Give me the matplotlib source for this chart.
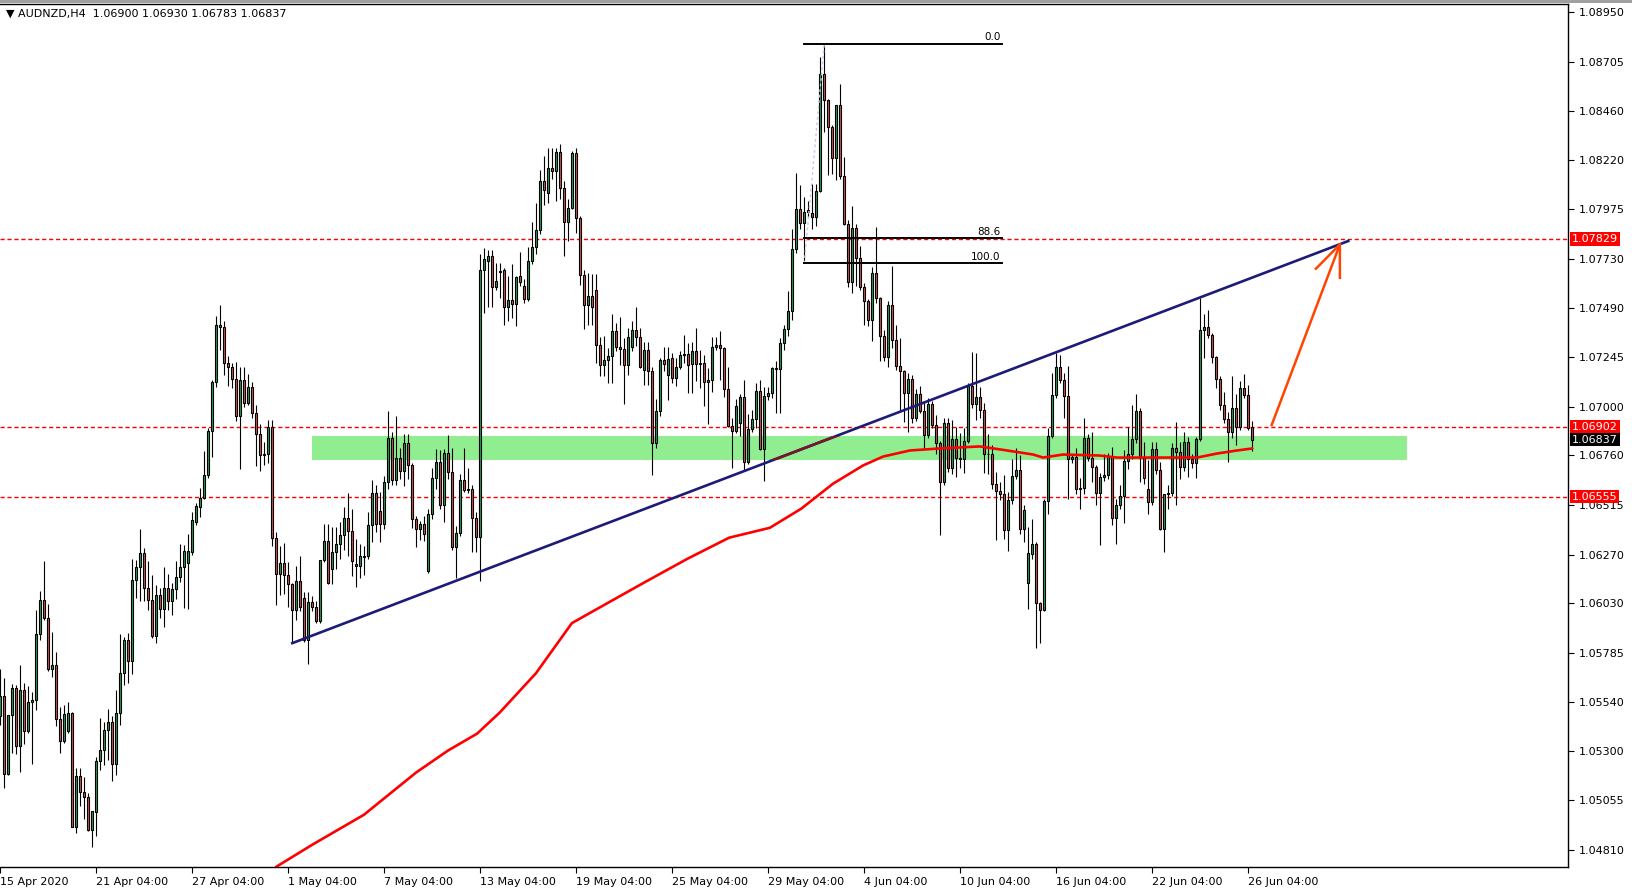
import numpy as np
import matplotlib
matplotlib.use("Agg")
import matplotlib.pyplot as plt
from matplotlib.patches import Rectangle
from matplotlib.transforms import blended_transform_factory

# AUDNZD H4 candles, prices in points (1e-5), bar 0 = 15 Apr 04:00
opens = [
    105471, 105570, 105186, 105475, 105612, 105326, 105599, 105399, 105543, 105553,
    105875, 106045, 105954, 105704, 105726, 105456, 105347, 105397, 105485, 104926,
    105177, 105096, 105071, 104908, 105000, 105252, 105305, 105404, 105443, 105235,
    105485, 105686, 105846, 105744, 106143, 106207, 106277, 106103, 106047, 105868,
    106068, 106002, 106103, 106039, 106100, 106158, 106207, 106227, 106282, 106433,
    106503, 106551, 106665, 106882, 107121, 107403, 107393, 107216, 107195, 107138,
    106952, 107131, 107021, 107100, 106971, 106867, 106764, 106769, 106898, 106351,
    106173, 106227, 106168, 106124, 105995, 106141, 106053, 105846, 106037, 106009,
    105942, 106243, 106336, 106199, 106282, 106320, 106365, 106450, 106386, 106225,
    106212, 106259, 106262, 106414, 106574, 106485, 106419, 106629, 106844, 106637,
    106748, 106681, 106819, 106711, 106443, 106394, 106422, 106187, 106472, 106650,
    106725, 106513, 106774, 106678, 106307, 106377, 106637, 106587, 106592, 106452,
    106356, 107675, 107720, 107746, 107594, 107671, 107675, 107495, 107527, 107510,
    107646, 107596, 107530, 107720, 107790, 107874, 108117, 108055, 108181, 108164,
    108261, 108080, 107913, 107984, 108252, 107933, 107651, 107502, 107546, 107576,
    107304, 107204, 107229, 107249, 107373, 107294, 107284, 107207, 107295, 107378,
    107346, 107180, 107279, 107175, 106822, 106981, 107229, 107155, 107239, 107141,
    107195, 107254, 107262, 107213, 107274, 107212, 107216, 107121, 107134, 107295,
    107304, 107290, 107087, 106905, 106880, 106918, 107047, 106728, 106889, 106938,
    107080, 106791, 107051, 107067, 107191, 107186, 107315, 107385, 107472, 107781,
    107979, 107906, 107963, 107955, 107938, 108067, 108643, 108514, 108381, 108227,
    108489, 108138, 107905, 107616, 107884, 107733, 107593, 107525, 107430, 107662,
    107535, 107348, 107244, 107502, 107331, 107199, 107175, 107067, 107136, 106946,
    107062, 106981, 106860, 107012, 106910, 106822, 106629, 106921, 106699, 106839,
    106748, 106743, 106832, 107105, 107012, 107047, 106984, 106766, 106769, 106617,
    106582, 106567, 106389, 106538, 106660, 106690, 106397, 106129, 106273, 106323,
    106029, 105997, 106533, 106857, 107056, 107195, 107130, 107054, 106744, 106753,
    106592, 106599, 106847, 106748, 106700, 106574, 106654, 106662, 106756, 106450,
    106513, 106559, 106733, 106766, 106839, 106981, 106748, 106596, 106530, 106789,
    106686, 106397, 106569, 106574, 106794, 106777, 106700, 106824, 106744, 106723,
    106840, 107378, 107393, 107356, 107244, 107138, 107009, 106939, 106877, 106996,
    106902, 107092, 107058, 106900,
]
highs = [
    105703, 105658, 105475, 105628, 105625, 105723, 105637, 105620, 105592, 105995,
    106088, 106237, 106025, 105886, 105786, 105519, 105524, 105543, 105490, 105215,
    105215, 105171, 105090, 105003, 105270, 105460, 105441, 105509, 105471, 105599,
    105876, 105860, 105880, 106248, 106245, 106397, 106303, 106239, 106169, 106121,
    106105, 106210, 106174, 106128, 106240, 106323, 106319, 106370, 106481, 106526,
    106599, 106781, 106893, 107133, 107447, 107502, 107423, 107249, 107216, 107219,
    107195, 107195, 107161, 107121, 107009, 106917, 106828, 106934, 106934, 106381,
    106314, 106326, 106232, 106130, 106215, 106265, 106083, 106083, 106066, 106042,
    106245, 106422, 106422, 106405, 106405, 106431, 106505, 106574, 106496, 106348,
    106323, 106314, 106480, 106640, 106612, 106579, 106657, 106979, 106877, 106954,
    106794, 106865, 106865, 106720, 106460, 106438, 106460, 106496, 106698, 106789,
    106786, 106789, 106860, 106794, 106410, 106670, 106794, 106695, 106612, 106480,
    107753, 107786, 107773, 107773, 107712, 107708, 107687, 107646, 107707, 107646,
    107764, 107629, 107791, 107913, 108009, 108168, 108241, 108277, 108277, 108277,
    108299, 108117, 108026, 108266, 108277, 107941, 107675, 107662, 107654, 107654,
    107345, 107348, 107290, 107459, 107414, 107442, 107340, 107389, 107423, 107493,
    107389, 107318, 107318, 107195, 107037, 107240, 107293, 107293, 107265, 107240,
    107274, 107353, 107313, 107318, 107389, 107279, 107258, 107191, 107345, 107345,
    107373, 107295, 107195, 106943, 107038, 107063, 107134, 106962, 106984, 107117,
    107134, 107097, 107100, 107196, 107224, 107340, 107406, 107571, 107876, 108153,
    108097, 108034, 108018, 108100, 108100, 108728, 108794, 108522, 108390, 108492,
    108593, 108232, 107921, 107993, 107902, 107795, 107612, 107530, 107690, 107889,
    107540, 107381, 107522, 107695, 107406, 107340, 107183, 107166, 107158, 107087,
    107103, 107026, 107042, 107029, 106959, 106830, 106946, 106946, 106934, 106902,
    106868, 106893, 107117, 107270, 107265, 107100, 107017, 106864, 106810, 106679,
    106629, 106662, 106579, 106744, 106794, 106761, 106513, 106405, 106447, 106330,
    106035, 106546, 106893, 107166, 107265, 107257, 107166, 107199, 106769, 106794,
    106649, 106946, 106864, 106873, 106711, 106675, 106769, 106773, 106803, 106546,
    106612, 106786, 106898, 107009, 107062, 106992, 106828, 106736, 106824, 106824,
    106728, 106571, 106612, 106819, 106923, 106828, 106873, 106852, 106769, 106852,
    107538, 107459, 107480, 107364, 107250, 107150, 107072, 106976, 107150, 107062,
    107128, 107161, 107108, 106930,
]
lows = [
    105430, 105116, 105180, 105290, 105285, 105195, 105334, 105390, 105235, 105501,
    105848, 105945, 105694, 105665, 105422, 105288, 105340, 105390, 104923, 104896,
    105025, 104962, 104905, 104826, 104881, 105207, 105228, 105253, 105149, 105183,
    105427, 105625, 105637, 105678, 106053, 106042, 106042, 105995, 105855, 105831,
    105956, 105913, 105995, 105970, 106050, 106135, 106005, 106000, 106270, 106417,
    106453, 106543, 106649, 106753, 107097, 107282, 107159, 107105, 107092, 106930,
    106691, 107001, 107008, 106943, 106706, 106682, 106711, 106720, 106314, 106022,
    106071, 106075, 106009, 105834, 105947, 105990, 105840, 105727, 105990, 105934,
    105934, 106232, 106125, 106125, 106199, 106248, 106290, 106265, 106166, 106108,
    106154, 106170, 106248, 106331, 106381, 106331, 106397, 106592, 106615, 106612,
    106645, 106609, 106645, 106401, 106307, 106344, 106339, 106180, 106447, 106596,
    106496, 106433, 106645, 106290, 106154, 106360, 106579, 106575, 106282, 106282,
    106141, 107463, 107493, 107493, 107575, 107535, 107406, 107426, 107439, 107401,
    107596, 107513, 107522, 107703, 107753, 107852, 107996, 108009, 108123, 108018,
    108026, 107745, 107819, 107975, 107861, 107604, 107384, 107406, 107406, 107216,
    107150, 107150, 107117, 107117, 107274, 107207, 107014, 107159, 107274, 107298,
    107191, 107108, 107108, 106662, 106794, 106954, 107175, 107031, 107117, 107105,
    107188, 107216, 107067, 107067, 107125, 107095, 107004, 106915, 107075, 107278,
    107134, 107050, 106900, 106695, 106868, 106855, 106686, 106715, 106874, 106893,
    106786, 106634, 107034, 107042, 106968, 106968, 107282, 107350, 107430, 107761,
    107876, 107712, 107935, 107876, 107893, 108062, 108356, 108147, 108150, 108122,
    108125, 107900, 107593, 107563, 107599, 107578, 107406, 107398, 107323, 107513,
    107224, 107224, 107195, 107290, 107181, 106976, 106926, 106877, 106918, 106928,
    106968, 106794, 106844, 106893, 106769, 106364, 106615, 106679, 106670, 106654,
    106695, 106674, 106820, 106992, 106934, 106943, 106675, 106670, 106596, 106344,
    106540, 106348, 106285, 106521, 106645, 106372, 106331, 106000, 106248, 105806,
    105831, 105990, 106472, 106844, 107042, 107117, 106943, 106546, 106720, 106571,
    106496, 106571, 106734, 106629, 106513, 106319, 106635, 106645, 106414, 106323,
    106496, 106426, 106691, 106744, 106819, 106629, 106620, 106472, 106516, 106670,
    106389, 106282, 106496, 106561, 106513, 106645, 106685, 106654, 106695, 106650,
    106829, 107240, 107340, 107216, 107092, 106983, 106918, 106728, 106844, 106810,
    106884, 107042, 106884, 106783,
]
closes = [
    105570, 105186, 105475, 105612, 105326, 105599, 105399, 105543, 105553, 105875,
    106045, 105954, 105704, 105726, 105456, 105347, 105480, 105485, 104926, 105177,
    105096, 105071, 104908, 105003, 105252, 105305, 105404, 105443, 105235, 105485,
    105686, 105846, 105744, 106143, 106207, 106277, 106103, 106047, 105868, 106068,
    106002, 106103, 106039, 106100, 106158, 106207, 106287, 106287, 106442, 106510,
    106551, 106665, 106882, 107121, 107403, 107393, 107216, 107195, 107138, 106952,
    107131, 107021, 107100, 106971, 106867, 106764, 106769, 106898, 106351, 106173,
    106227, 106168, 106124, 105995, 106141, 106009, 105846, 106037, 106009, 105942,
    106243, 106336, 106130, 106282, 106320, 106365, 106450, 106386, 106240, 106212,
    106262, 106262, 106414, 106574, 106419, 106419, 106629, 106844, 106637, 106748,
    106681, 106819, 106711, 106443, 106394, 106422, 106369, 106472, 106650, 106725,
    106513, 106774, 106678, 106307, 106377, 106637, 106587, 106592, 106452, 106356,
    107675, 107731, 107746, 107594, 107621, 107666, 107495, 107527, 107510, 107641,
    107614, 107530, 107720, 107790, 107874, 108117, 108070, 108181, 108164, 108261,
    108080, 107913, 107984, 108252, 107933, 107651, 107502, 107546, 107492, 107304,
    107204, 107229, 107249, 107373, 107294, 107284, 107207, 107345, 107378, 107346,
    107198, 107279, 107175, 106822, 106981, 107229, 107212, 107234, 107141, 107198,
    107254, 107262, 107207, 107274, 107212, 107216, 107121, 107134, 107295, 107304,
    107290, 107087, 106905, 106880, 107006, 107047, 106728, 106889, 106938, 107080,
    106791, 107051, 107067, 107191, 107186, 107315, 107385, 107472, 107781, 107979,
    107906, 107963, 107971, 107938, 108067, 108643, 108514, 108381, 108227, 108489,
    108138, 107905, 107616, 107884, 107733, 107593, 107525, 107430, 107662, 107535,
    107348, 107244, 107502, 107331, 107199, 107175, 107067, 107136, 106946, 107062,
    106981, 106860, 107012, 106910, 106822, 106629, 106921, 106699, 106839, 106748,
    106743, 106832, 107105, 107012, 107047, 106984, 106766, 106769, 106617, 106582,
    106567, 106389, 106538, 106660, 106690, 106397, 106491, 106278, 106323, 106029,
    105997, 106533, 106857, 107056, 107195, 107130, 107054, 106744, 106753, 106592,
    106599, 106847, 106748, 106700, 106574, 106654, 106662, 106756, 106450, 106513,
    106559, 106733, 106766, 106839, 106981, 106748, 106650, 106530, 106789, 106686,
    106397, 106569, 106574, 106794, 106777, 106700, 106824, 106744, 106723, 106840,
    107378, 107393, 107356, 107244, 107138, 107009, 106939, 106877, 106996, 106902,
    107092, 107058, 106897, 106837,
]

# moving average, bar index -> price
ma_idx = [68.9, 77.9, 90.9, 103.9, 111.9, 119.2, 124.9, 133.9, 142.9, 150.9,
          161.2, 171.7, 182.2, 192.4, 200.2, 208.2, 215.7, 220.7, 227.4, 234.9,
          244.9, 251.7, 258.2, 260.7, 265.7, 274.9, 279.2, 289.2, 299.2, 304.2,
          309.2, 313.0]
ma_val = [1.04726, 1.04835, 1.04984, 1.05192, 1.05301, 1.05385, 1.05490, 1.05683,
          1.05931, 1.06020, 1.06134, 1.06248, 1.06353, 1.06402, 1.06496, 1.06620,
          1.06710, 1.06754, 1.06784, 1.06794, 1.06804, 1.06784, 1.06764, 1.06749,
          1.06764, 1.06759, 1.06749, 1.06749, 1.06749, 1.06769, 1.06784, 1.06794]

# drawn objects
hlines = [1.07829, 1.06902, 1.06555]
bid = 1.06837
trend_idx = [73, 337]
trend_val = [1.05832, 1.07819]
zone_idx = [77.9, 351.7]
zone_val = [1.06736, 1.06854]
fib_idx = [201, 250.4]
fib_levels = {"0.0": 1.08794, "88.6": 1.07832, "100.0": 1.07708}
fib_diag_idx = [201, 206]
fib_diag_val = [1.07708, 1.08794]
arrow_idx = [317.85, 334.9]
arrow_val = [1.06910, 1.07802]
head_idx = [328.9, 334.9, 334.9]
head_val = [1.07682, 1.07802, 1.07637]

yticks = [1.08950, 1.08705, 1.08460, 1.08220, 1.07975, 1.07730, 1.07490, 1.07245,
          1.07000, 1.06760, 1.06515, 1.06270, 1.06030, 1.05785, 1.05540, 1.05300,
          1.05055, 1.04810]
xtick_labels = ["15 Apr 2020", "21 Apr 04:00", "27 Apr 04:00", "1 May 04:00",
                "7 May 04:00", "13 May 04:00", "19 May 04:00", "25 May 04:00",
                "29 May 04:00", "4 Jun 04:00", "10 Jun 04:00", "16 Jun 04:00",
                "22 Jun 04:00", "26 Jun 04:00"]

n = len(opens)
if not (len(highs) == len(lows) == len(closes) == n):
    raise ValueError(f"lengths {n} {len(highs)} {len(lows)} {len(closes)}")

o = np.array(opens) / 1e5
h = np.array(highs) / 1e5
l = np.array(lows) / 1e5
c = np.array(closes) / 1e5
x = np.arange(n)

W, H = 1632, 890
fig = plt.figure(figsize=(W / 100, H / 100), dpi=100)
fig.patch.set_facecolor("white")
ax = fig.add_axes([0, 23 / H, 1568 / W, 863 / H])
ax.set_xlim(-0.075, 391.93)
ax.set_ylim(1.04726, 1.08990)

# support zone
zone = Rectangle((zone_idx[0], zone_val[0]), zone_idx[1] - zone_idx[0],
                 zone_val[1] - zone_val[0], facecolor="#90ee90", edgecolor="none", zorder=0.5)
ax.add_patch(zone)

for lv in hlines:
    ax.axhline(lv, color="#ff0000", lw=1, dashes=(3, 2), zorder=1)

# candles
up = c >= o
body_col = np.where(up, "#22a05a", "#d65050")
ax.vlines(x, l, h, color="black", lw=0.8, zorder=2)
ax.bar(x, np.abs(c - o), bottom=np.minimum(o, c), width=0.6, color=body_col,
       edgecolor="black", linewidth=0.8, zorder=3)

# moving average
ax.plot(ma_idx, ma_val, color="#ff0000", lw=1.9, zorder=4, solid_capstyle="round")

# trend line, dark red where it crosses the zone
ax.plot(trend_idx, trend_val, color="#1c1c78", lw=1.9, zorder=5)
seg, = ax.plot(trend_idx, trend_val, color="#7a1530", lw=1.9, zorder=5.1)
seg.set_clip_path(zone)

# fibonacci
for name, lv in fib_levels.items():
    ax.plot(fib_idx, [lv, lv], color="black", lw=1.4, zorder=5)
    ax.text(fib_idx[1] - 0.3, lv + 0.00006, name, ha="right", va="bottom",
            fontsize=7.5, zorder=6)
ax.plot(fib_diag_idx, fib_diag_val, color="#c8c8e6", lw=1, dashes=(2, 2), zorder=4)

# arrow
ax.plot(arrow_idx, arrow_val, color="#ff4500", lw=1.8, zorder=6)
ax.plot(head_idx, head_val, color="#ff4500", lw=1.8, zorder=6)

# axes styling
for s in ax.spines.values():
    s.set_color("black")
    s.set_linewidth(1)
ax.spines["left"].set_visible(False)
ax.yaxis.tick_right()
ax.set_yticks(yticks)
ax.set_yticklabels([f"{v:.5f}" for v in yticks])
ax.tick_params(axis="y", direction="out", length=4, width=0.8, pad=4, labelsize=8)
ax.set_xticks(np.arange(len(xtick_labels)) * 24)
ax.set_xticklabels(xtick_labels)
for lbl in ax.get_xticklabels():
    lbl.set_ha("left")
ax.tick_params(axis="x", direction="out", length=4, width=0.8, pad=3, labelsize=8)

# price tags on the scale
tr = blended_transform_factory(ax.transAxes, ax.transData)
for lv in hlines:
    ax.text(1.0 + 4 / 1568, lv, f"{lv:.5f}", transform=tr, ha="left", va="center",
            fontsize=8, color="white", clip_on=False, zorder=10,
            bbox=dict(facecolor="#ff0000", edgecolor="none", pad=1.2))
ax.text(1.0 + 4 / 1568, bid, f"{bid:.5f}", transform=tr, ha="left", va="center",
        fontsize=8, color="white", clip_on=False, zorder=10,
        bbox=dict(facecolor="black", edgecolor="none", pad=1.2))

# header
fig.text(6 / W, 1 - 14 / H, "\u25bc AUDNZD,H4  1.06900 1.06930 1.06783 1.06837",
         fontsize=8, va="center", ha="left")
fig.patches.append(Rectangle((0, 1 - 3 / H), 1, 3 / H, transform=fig.transFigure,
                             facecolor="#a0a0a0", edgecolor="none"))

fig.savefig("out.png", dpi=100)
